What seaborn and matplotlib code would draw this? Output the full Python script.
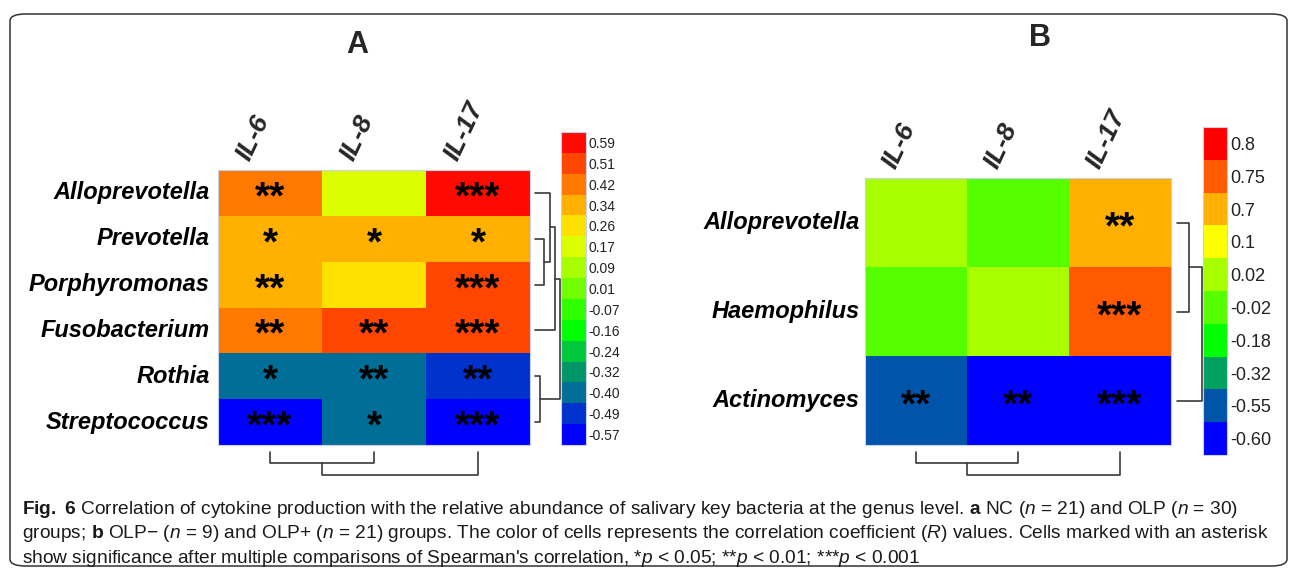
import numpy as np
import pandas as pd
import matplotlib
matplotlib.use("Agg")
import matplotlib.pyplot as plt
from matplotlib.colors import ListedColormap
from matplotlib.patches import FancyBboxPatch
from matplotlib.transforms import ScaledTranslation
import seaborn as sns

# Painel A - NC e OLP
cytokines = ["IL-6", "IL-8", "IL-17"]
genera_a = ["Alloprevotella", "Prevotella", "Porphyromonas",
            "Fusobacterium", "Rothia", "Streptococcus"]
r_a = [[0.42, 0.17, 0.59],
       [0.34, 0.34, 0.34],
       [0.34, 0.26, 0.51],
       [0.42, 0.51, 0.51],
       [-0.40, -0.40, -0.49],
       [-0.57, -0.40, -0.57]]
stars_a = [["**", "", "***"],
           ["*", "*", "*"],
           ["**", "", "***"],
           ["**", "**", "***"],
           ["*", "**", "**"],
           ["***", "*", "***"]]
levels_a = [-0.57, -0.49, -0.40, -0.32, -0.24, -0.16, -0.07, 0.01,
            0.09, 0.17, 0.26, 0.34, 0.42, 0.51, 0.59]
level_labels_a = ["-0.57", "-0.49", "-0.40", "-0.32", "-0.24", "-0.16", "-0.07", "0.01",
                  "0.09", "0.17", "0.26", "0.34", "0.42", "0.51", "0.59"]
colors_a = ["#0000ff", "#0033cc", "#006e96", "#00966a", "#00c83c", "#00ff00", "#30ff00",
            "#70ff00", "#a8ff00", "#dcff00", "#ffe100", "#ffb000", "#ff7800", "#ff4600",
            "#ff0a00"]

# Painel B - OLP- e OLP+
genera_b = ["Alloprevotella", "Haemophilus", "Actinomyces"]
r_b = [[0.02, -0.02, 0.7],
       [-0.02, 0.02, 0.75],
       [-0.55, -0.60, -0.60]]
stars_b = [["", "", "**"],
           ["", "", "***"],
           ["**", "**", "***"]]
levels_b = [-0.60, -0.55, -0.32, -0.18, -0.02, 0.02, 0.1, 0.7, 0.75, 0.8]
level_labels_b = ["-0.60", "-0.55", "-0.32", "-0.18", "-0.02", "0.02", "0.1", "0.7", "0.75", "0.8"]
colors_b = ["#0000ff", "#0055aa", "#00a060", "#00ff00", "#55ff00", "#a8ff00",
            "#ffff00", "#ffb000", "#ff5a00", "#ff0000"]

# Dendrogramas: (no_a, no_b, altura)
row_merges_a = [(1, 2, 9), (0, 6, 15), (7, 3, 20), (4, 5, 5), (8, 9, 25)]
col_merges_a = [(0, 1, 11), (3, 2, 23)]
row_merges_b = [(0, 1, 12), (3, 2, 25)]
col_merges_b = [(0, 1, 11), (3, 2, 23)]

sns.set_style("white")
plt.rcParams["font.family"] = ["Liberation Sans", "DejaVu Sans"]
plt.rcParams["mathtext.fontset"] = "custom"
plt.rcParams["mathtext.rm"] = "Liberation Sans"
plt.rcParams["mathtext.it"] = "Liberation Sans:italic"
plt.rcParams["mathtext.bf"] = "Liberation Sans:bold"

W, H = 1290, 573
fig = plt.figure(figsize=(W / 100, H / 100), dpi=100)


def px_axes(x0, y0, x1, y1):
    # cria eixo a partir de coordenadas em pixels (origem no topo)
    return fig.add_axes([x0 / W, 1 - y1 / H, (x1 - x0) / W, (y1 - y0) / H])


def draw_dendro(ax, merges, n, orient):
    pos = {i: i + 0.5 for i in range(n)}
    hgt = {i: 0 for i in range(n)}
    for k, (a, b, h) in enumerate(merges):
        if orient == "row":
            ax.plot([hgt[a], h, h, hgt[b]], [pos[a], pos[a], pos[b], pos[b]],
                    color="#3a3a3a", lw=1.2, clip_on=False)
        else:
            ax.plot([pos[a], pos[a], pos[b], pos[b]], [hgt[a], h, h, hgt[b]],
                    color="#3a3a3a", lw=1.2, clip_on=False)
        pos[n + k] = (pos[a] + pos[b]) / 2
        hgt[n + k] = h
    if orient == "row":
        ax.set_xlim(0, 26)
        ax.set_ylim(n, 0)
    else:
        ax.set_xlim(0, n)
        ax.set_ylim(25, 0)
    ax.axis("off")


def panel(box, cbox, rbox, cdbox, genera, r, stars, levels, labels, colors,
          row_merges, col_merges, cbar_fs, label_pad, lab_dx):
    ax = px_axes(*box)
    cax = px_axes(*cbox)
    idx = np.array([[levels.index(v) for v in row] for row in r])
    df = pd.DataFrame(idx, index=genera, columns=cytokines)
    sns.heatmap(df, ax=ax, cbar_ax=cax, cmap=ListedColormap(colors),
                vmin=-0.5, vmax=len(levels) - 0.5, linewidths=0,
                annot=np.array(stars), fmt="",
                annot_kws={"fontsize": 28, "fontweight": "bold", "color": "black"},
                xticklabels=False)
    shift = ScaledTranslation(0, -4 / 72, fig.dpi_scale_trans)
    for t in ax.texts:
        t.set_transform(t.get_transform() + shift)
    ax.set_yticklabels(genera, rotation=0, fontsize=17, fontweight="bold",
                       fontstyle="italic", color="black")
    ax.tick_params(axis="y", length=0, pad=label_pad)
    ax.set_xlabel("")
    ax.set_ylabel("")
    for s in ax.spines.values():
        s.set_visible(True)
        s.set_edgecolor("#c8d0ea")
        s.set_linewidth(0.8)
    off = ScaledTranslation(lab_dx / 100, 11 / 100, fig.dpi_scale_trans)
    for i, name in enumerate(cytokines):
        ax.text(i + 0.5, 0, name, transform=ax.transData + off, rotation=65,
                rotation_mode="anchor", ha="left", va="center", fontsize=19,
                fontweight="bold", fontstyle="italic", clip_on=False)

    cbar = ax.collections[0].colorbar
    cbar.set_ticks(range(len(levels)))
    cbar.set_ticklabels(labels)
    cbar.ax.tick_params(length=0, labelsize=cbar_fs, pad=2, colors="#222222")
    cbar.outline.set_edgecolor("#c8d0ea")
    cbar.outline.set_linewidth(0.8)

    draw_dendro(px_axes(*rbox), row_merges, len(genera), "row")
    draw_dendro(px_axes(*cdbox), col_merges, len(cytokines), "col")


panel((218, 170, 530, 445), (561, 132, 586, 445), (535, 170, 561, 445), (218, 452, 530, 477),
      genera_a, r_a, stars_a, levels_a, level_labels_a, colors_a,
      row_merges_a, col_merges_a, 10, 6, -27)
panel((865, 178, 1171, 445), (1203, 127, 1227, 455), (1177, 178, 1203, 445), (865, 452, 1171, 477),
      genera_b, r_b, stars_b, levels_b, level_labels_b, colors_b,
      row_merges_b, col_merges_b, 13, 4, -27)

fig.text(357 / W, 1 - 45 / H, "A", fontsize=22, fontweight="bold", ha="center", va="center")
fig.text(1040 / W, 1 - 38 / H, "B", fontsize=22, fontweight="bold", ha="center", va="center")

# moldura arredondada
frame = FancyBboxPatch((10 / W, 1 - 566 / H), 1277 / W, 552 / H,
                       boxstyle="round,pad=0,rounding_size=0.012",
                       transform=fig.transFigure, fill=False,
                       edgecolor="#333333", lw=1.1)
fig.patches.append(frame)

caption = [
    r"$\mathbf{Fig.}$ $\mathbf{6}$ Correlation of cytokine production with the relative abundance of salivary key bacteria at the genus level. $\mathbf{a}$ NC ($\mathit{n}$ = 21) and OLP ($\mathit{n}$ = 30)",
    r"groups; $\mathbf{b}$ OLP− ($\mathit{n}$ = 9) and OLP+ ($\mathit{n}$ = 21) groups. The color of cells represents the correlation coefficient ($\mathit{R}$) values. Cells marked with an asterisk",
    r"show significance after multiple comparisons of Spearman's correlation, *$\mathit{p}$ < 0.05; **$\mathit{p}$ < 0.01; ***$\mathit{p}$ < 0.001",
]
for k, line in enumerate(caption):
    fig.text(22 / W, 1 - (514 + 24.5 * k) / H, line, fontsize=13.8, color="#1a1a1a",
             ha="left", va="baseline")

fig.savefig("out.png", dpi=100, facecolor="white")
